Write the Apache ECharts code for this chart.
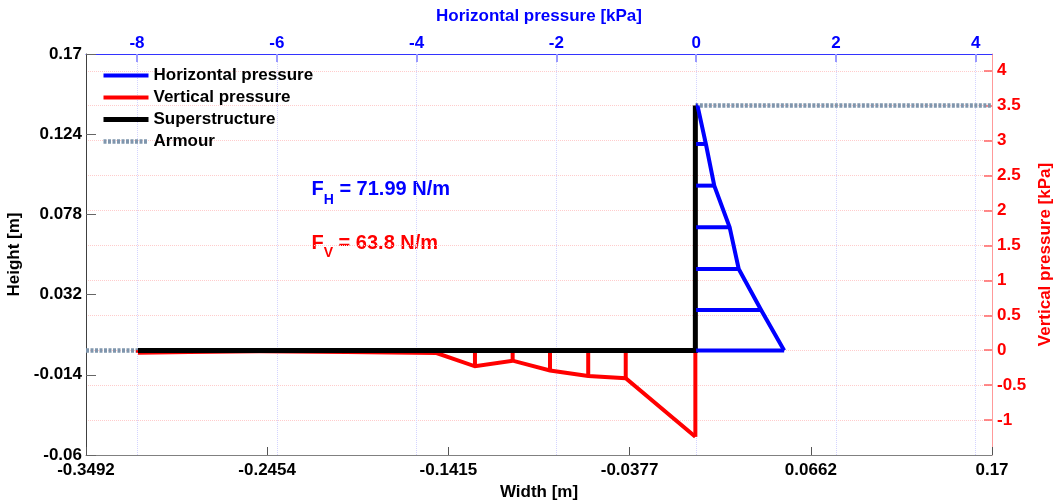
<!doctype html>
<html lang="en">
<head>
    <meta charset="UTF-8">
    <title>Pressure distribution</title>
    <style>
        html, body { margin: 0; padding: 0; background: #fff; }
        #chart { width: 1056px; height: 504px; }
    </style>
    <script src="https://cdn.jsdelivr.net/npm/echarts@6/dist/echarts.min.js"></script>
</head>
<body>
<div id="chart"></div>
<script type="text/javascript">
    // tick labels
    var widthTicks = [-0.3492, -0.2454, -0.1415, -0.0377, 0.0662, 0.17];
    var heightTicks = [-0.06, -0.014, 0.032, 0.078, 0.124, 0.17];
    var hPressTicks = [-8, -6, -4, -2, 0, 2, 4];
    var vPressTicks = [-1, -0.5, 0, 0.5, 1, 1.5, 2, 2.5, 3, 3.5, 4];

    // horizontal pressure on the front wall [kPa] at gauge heights [m]
    var hpHeight = [0.1404, 0.1184, 0.0945, 0.0706, 0.0467, 0.0232, 0];
    var hpValue = [0.02, 0.14, 0.26, 0.48, 0.61, 0.93, 1.26];

    // vertical pressure under the base [kPa] at gauge positions [m]
    var vpWidth = [-0.3194, -0.29, -0.25, -0.2, -0.1483, -0.1263, -0.1047, -0.0833, -0.0614, -0.0399, 0];
    var vpValue = [-0.035, -0.025, -0.015, -0.025, -0.04, -0.23, -0.15, -0.29, -0.37, -0.40, -1.24];

    // superstructure outline [m]
    var structX = [-0.3194, 0, 0];
    var structY = [0, 0, 0.1404];

    // armour crest [m]
    var armourLeftX = [-0.3492, -0.3194];
    var armourLeftY = [0, 0];
    var armourRightX = [0, 0.17];
    var armourRightY = [0.1404, 0.1404];

    var forceH = '71.99';
    var forceV = '63.8';

    var FONT = "'Liberation Sans', Arial, sans-serif";

    var pairs = function (xs, ys) {
        return xs.map(function (x, i) { return [x, ys[i]]; });
    };

    var lineSeries = function (name, data, color, width, xi, yi, dash) {
        return {
            type: 'line',
            name: name,
            data: data,
            xAxisIndex: xi,
            yAxisIndex: yi,
            symbol: 'none',
            silent: true,
            clip: true,
            itemStyle: {color: color},
            lineStyle: {color: color, width: width, type: dash || 'solid', cap: 'butt', join: 'miter'}
        };
    };

    var series = [];
    // armour (bottom layer)
    series.push(lineSeries('Armour', pairs(armourLeftX, armourLeftY), '#8096ad', 4.5, 0, 0, [3, 1.5]));
    series.push(lineSeries('Armour', pairs(armourRightX, armourRightY), '#8096ad', 4.5, 0, 0, [3, 1.5]));
    // vertical pressure outline + hatches
    series.push(lineSeries('Vertical pressure', pairs(vpWidth, vpValue), '#ff0000', 4, 0, 1));
    vpWidth.forEach(function (w, i) {
        series.push(lineSeries('vp' + i, [[w, 0], [w, vpValue[i]]], '#ff0000', 4, 0, 1));
    });
    // superstructure
    series.push(lineSeries('Superstructure', pairs(structX, structY), '#000000', 5, 0, 0));
    // horizontal pressure outline + hatches
    series.push(lineSeries('Horizontal pressure', pairs(hpValue, hpHeight), '#0000ff', 4, 1, 0));
    hpHeight.forEach(function (h, i) {
        series.push(lineSeries('hp' + i, [[0, h], [hpValue[i], h]], '#0000ff', 4, 1, 0));
    });

    var labelStyle = function (color) {
        return {fontFamily: FONT, fontWeight: 'bold', fontSize: 17, color: color};
    };

    var option = {
        animation: false,
        backgroundColor: '#ffffff',
        grid: {left: 86, right: 64, top: 54, bottom: 49, containLabel: false, outerBoundsMode: 'none'},
        legend: {
            data: ['Horizontal pressure', 'Vertical pressure', 'Superstructure', 'Armour'],
            orient: 'vertical',
            left: 101,
            top: 67,
            padding: 0,
            itemWidth: 45,
            itemHeight: 14,
            itemGap: 5,
            selectedMode: false,
            itemStyle: {opacity: 0, borderWidth: 0},
            lineStyle: {width: 'inherit'},
            textStyle: labelStyle('#000000')
        },
        xAxis: [{
            type: 'value',
            position: 'bottom',
            min: -0.3492,
            max: 0.17,
            name: 'Width [m]',
            nameLocation: 'middle',
            nameGap: 28,
            nameTextStyle: labelStyle('#000000'),
            axisLine: {onZero: false, lineStyle: {color: '#808080', width: 1}},
            axisTick: {inside: true, length: 8, customValues: widthTicks, lineStyle: {color: '#555555'}},
            axisLabel: Object.assign({customValues: widthTicks, margin: 7, formatter: function (v) { return String(v); }}, labelStyle('#000000')),
            splitLine: {show: false}
        }, {
            type: 'value',
            position: 'top',
            min: -8.73,
            max: 4.234,
            name: 'Horizontal pressure [kPa]',
            nameLocation: 'middle',
            nameGap: 29,
            nameTextStyle: labelStyle('#0000ff'),
            axisLine: {onZero: false, lineStyle: {color: '#3333ff', width: 1}},
            axisTick: {inside: true, length: 8, customValues: hPressTicks, lineStyle: {color: '#9999ff', width: 2}},
            axisLabel: Object.assign({customValues: hPressTicks, margin: 2}, labelStyle('#0000ff')),
            splitLine: {show: true, lineStyle: {color: '#d4d4ff', type: 'dotted', width: 1}}
        }],
        yAxis: [{
            type: 'value',
            position: 'left',
            min: -0.06,
            max: 0.17,
            name: 'Height [m]',
            nameLocation: 'middle',
            nameGap: 63,
            nameTextStyle: labelStyle('#000000'),
            axisLine: {onZero: false, lineStyle: {color: '#404040', width: 1}},
            axisTick: {inside: true, length: 10, customValues: heightTicks, lineStyle: {color: '#666666'}},
            axisLabel: Object.assign({customValues: heightTicks, margin: 4, formatter: function (v) { return String(v); }}, labelStyle('#000000')),
            splitLine: {show: false}
        }, {
            type: 'value',
            position: 'right',
            min: -1.5,
            max: 4.24,
            name: 'Vertical pressure [kPa]',
            nameLocation: 'middle',
            nameGap: 41,
            nameTextStyle: labelStyle('#ff0000'),
            axisLine: {onZero: false, lineStyle: {color: '#ff9999', width: 1}},
            axisTick: {inside: true, length: 8, customValues: vPressTicks, lineStyle: {color: '#ff6666', width: 1.5}},
            axisLabel: Object.assign({customValues: vPressTicks, margin: 5}, labelStyle('#ff0000')),
            splitLine: {show: true, lineStyle: {color: '#ffcccc', type: 'dotted', width: 1}}
        }],
        graphic: [{
            type: 'text',
            x: 311.5,
            y: 189.7,
            silent: true,
            style: {
                text: '{m|F}{s|H}{m| = ' + forceH + ' N/m}',
                verticalAlign: 'middle',
                fill: '#0000ff',
                rich: {
                    m: {fontFamily: FONT, fontWeight: 'bold', fontSize: 20, fill: '#0000ff'},
                    s: {fontFamily: FONT, fontWeight: 'bold', fontSize: 14, fill: '#0000ff', padding: [20, 0, 0, 0]}
                }
            }
        }, {
            type: 'text',
            x: 311.5,
            y: 243.5,
            silent: true,
            style: {
                text: '{m|F}{s|V}{m| = ' + forceV + ' N/m}',
                verticalAlign: 'middle',
                fill: '#ff0000',
                rich: {
                    m: {fontFamily: FONT, fontWeight: 'bold', fontSize: 20, fill: '#ff0000'},
                    s: {fontFamily: FONT, fontWeight: 'bold', fontSize: 14, fill: '#ff0000', padding: [20, 0, 0, 0]}
                }
            }
        }],
        series: series
    };

    var myChart = echarts.init(document.getElementById('chart'));
    myChart.setOption(option);
</script>
</body>
</html>
